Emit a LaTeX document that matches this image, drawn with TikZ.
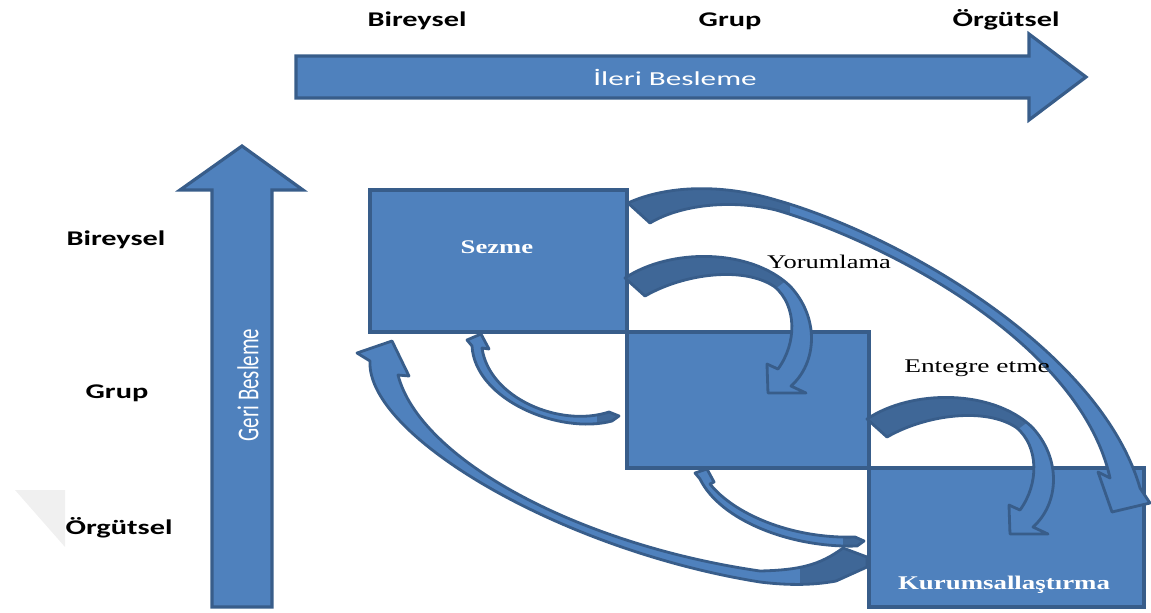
\documentclass[tikz,border=0pt]{standalone}
\usepackage{fontspec}
\setmainfont{Liberation Serif}
\newfontfamily\calibri{Carlito}
\usetikzlibrary{calc}

\definecolor{boxfill}{HTML}{4F81BD}
\definecolor{boxline}{HTML}{385D8A}
\definecolor{backface}{HTML}{3F6797}

% horizontal stretch of a piece of text
\newcommand\stretchx[2]{\scalebox{#1}[1]{#2}}

% a curved block arrow: #1 outline path, #2 region shown as the back face
\newcommand\ribbon[2]{%
  \fill[boxfill] #1;
  \begin{scope}
    \clip #1;
    \fill[backface] #2;
  \end{scope}
  \draw[boxline, line width=1.6pt, line join=round] #1;
}

% the two short bent arrows between neighbouring steps (local coordinates)
\newcommand\curlpath{(0,0) .. controls (45,-30) and (125,-30) .. (165,8)
  .. controls (195,40) and (192,85) .. (166,108) -- (181,115) -- (143,115)
  -- (142,86) -- (153,91) .. controls (172,65) and (172,28) .. (150,9)
  .. controls (120,-12) and (60,-5) .. (20,18) -- cycle}
\newcommand\curlback{(-30,-60) -- (150,-60) -- (162,2) -- (146,14) -- (-30,40) -- cycle}

% long arc from Sezme to Kurumsallastirma
\newcommand\longpath{(628,203) .. controls (665,186) and (720,183) .. (776,200)
  .. controls (900,235) and (1100,350) .. (1140,488) -- (1150,503) -- (1112,512)
  -- (1098,472) -- (1110,478) .. controls (1080,343) and (886,242) .. (776,210)
  .. controls (730,199) and (680,205) .. (650,223) -- cycle}

% long feedback arc from Kurumsallastirma back to Sezme
\newcommand\bigpath{(370,361) .. controls (366,435) and (560,550) .. (760,582)
  .. controls (800,587) and (825,583) .. (836,581) -- (867,567) -- (867,557)
  -- (843,548) .. controls (820,565) and (800,570) .. (760,571)
  .. controls (580,545) and (420,460) .. (398,375) -- (409,376) -- (392,341)
  -- (357,353) -- cycle}

% short feedback arcs
\newcommand\backD{(472,346) .. controls (475,400) and (560,435) .. (612,421)
  -- (619,416) -- (609,412) .. controls (560,428) and (489,398) .. (482,348)
  -- (489,349) -- (481,334) -- (467,340) -- cycle}
\newcommand\backE{(700,479) .. controls (720,520) and (790,548) .. (857,546)
  -- (864,541) -- (855,537) .. controls (790,539) and (733,513) .. (710,484)
  -- (714,482) -- (707,469) -- (695,473) -- cycle}

\begin{document}
\begin{tikzpicture}[x=0.02cm, y=-0.02cm,
  block/.style={fill=boxfill, draw=boxline, line width=1.8pt, line join=miter},
  stage/.style={block, inner sep=0, outer sep=0},
  axislbl/.style={font=\calibri\bfseries\fontsize{11.9}{14}\selectfont, text=black, inner sep=0, anchor=base},
  arrowlbl/.style={font=\calibri\fontsize{11.3}{14}\selectfont, text=white, inner sep=0},
  stagelbl/.style={font=\bfseries\fontsize{11}{13}\selectfont, text=white, inner sep=0, anchor=base},
  steplbl/.style={font=\fontsize{11}{13}\selectfont, text=black, inner sep=0, anchor=base}]

\useasboundingbox (0,0) rectangle (1151,612);

% faint grey corner mark
\fill[gray!12] (15,490) -- (65,490) -- (65,547) -- cycle;

% feed-forward arrow
\draw[block] (296,56) -- (1029,56) -- (1029,34) -- (1086,77) -- (1029,120)
  -- (1029,98) -- (296,98) -- cycle;
\node[arrowlbl, anchor=base] (ileri) at (675,85) {\stretchx{1.57}{İleri Besleme}};

% feedback arrow
\draw[block] (212,607) -- (212,190) -- (180,190) -- (242,146) -- (303,190)
  -- (272,190) -- (272,607) -- cycle;
\node[arrowlbl] (geri) at (248,385)
  {\stretchx{1.45}{\rotatebox{90}{\calibri\fontsize{11.9}{14}\selectfont Geri Besleme}}};

% level labels
\node[axislbl] (tb) at (417,26) {\stretchx{1.45}{Bireysel}};
\node[axislbl] (tg) at (730,26) {\stretchx{1.45}{Grup}};
\node[axislbl] (to) at (1006,26) {\stretchx{1.45}{Örgütsel}};
\node[axislbl] (lb) at (116,245) {\stretchx{1.45}{Bireysel}};
\node[axislbl] (lg) at (117,398) {\stretchx{1.45}{Grup}};
\node[axislbl] (lo) at (119,534) {\stretchx{1.45}{Örgütsel}};

% the three stages
\node[stage, minimum width=5.14cm, minimum height=2.84cm] (sezme) at (498.5,261) {};
\node[stage, minimum width=4.84cm, minimum height=2.72cm] (grup) at (748,400) {};
\node[stage, minimum width=5.5cm, minimum height=2.78cm] (kurum) at (1006.5,537.5) {};

\node[stagelbl] (sezmelbl) at (497,253) {\stretchx{1.38}{Sezme}};
\node[stagelbl] (kurumlbl) at (1004,589) {\stretchx{1.39}{Kurumsallaştırma}};

% forward bends between neighbouring stages
\begin{scope}[shift={($(sezme.north east)+(-2,88)$)}]
  \ribbon{\curlpath}{\curlback}
\end{scope}
\begin{scope}[shift={($(grup.north east)+(-2,87)$)}]
  \ribbon{\curlpath}{\curlback}
\end{scope}

% long forward arc
\ribbon{\longpath}{(600,150) rectangle (790,260)}

% feedback arcs
\ribbon{\bigpath}{(800,530) rectangle (880,600)}
\ribbon{\backD}{(597,395) rectangle (630,440)}
\ribbon{\backE}{(843,525) rectangle (875,560)}

% step names
\node[steplbl] (yorum) at (829,268) {\stretchx{1.37}{Yorumlama}};
\node[steplbl] (entegre) at (977,372) {\stretchx{1.42}{Entegre etme}};

\end{tikzpicture}
\end{document}
